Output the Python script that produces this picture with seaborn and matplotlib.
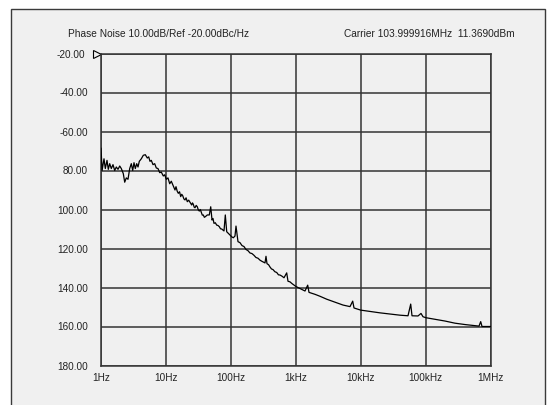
import numpy as np
import pandas as pd
import matplotlib
matplotlib.use("Agg")
import matplotlib.pyplot as plt
import seaborn as sns
from matplotlib.patches import Rectangle
from matplotlib.transforms import ScaledTranslation

# ---- data (offset frequency in Hz, phase noise magnitude in dB below carrier) ----
freq_hz = [
    1.0, 1.04, 1.112, 1.165, 1.237, 1.295, 1.361, 1.441, 1.53, 1.626, 1.72, 1.827,
    1.941, 2.054, 2.204, 2.317, 2.452, 2.604, 2.766, 2.928, 3.077, 3.222, 3.375,
    3.546, 3.713, 3.889, 4.173, 4.48, 4.81, 5.164, 5.425, 5.68, 5.95, 6.32, 6.71,
    7.10, 7.54, 8.01, 8.48, 9.10, 9.57, 10.12, 10.75, 11.42, 12.09, 12.84, 13.78,
    14.28, 14.9, 15.49, 16.2, 16.87, 17.5, 18.11, 18.9, 19.65, 20.4, 21.32, 22.4,
    23.46, 24.92, 25.6, 26.37, 27.2, 28.01, 29.2, 30.39, 31.5,
    32.62, 33.8, 35.03, 36.3, 37.6, 39.0, 40.36, 43.3, 46.5, 48.9, 51.2, 53.0, 54.9,
    57.6, 60.4, 63.3, 66.3, 69.2, 72.2, 78.3, 82.0, 86.2, 91.2, 96.9, 102.9, 108.9,
    115.6, 119.8, 128.6, 138.0, 148.2, 159.0, 170.8, 183.0, 196.8, 211.0, 226.8,
    243.0, 261.4, 281.0, 301.2, 335, 347, 359.6, 380.0, 400, 422.0, 444.8, 475.0,
    507.4, 540.0, 570, 612.0, 657, 723, 757, 812.0, 872, 1005, 1159, 1383, 1522,
    1594, 1972, 2354, 2985, 4007, 5321, 6819, 7506, 7858, 9965, 13860, 19750,
    28150, 40130, 53310, 58660, 61430, 75990, 84540, 90740, 100900, 138800,
    197900, 282000, 402100, 573300, 660500, 701600, 734700, 1000000,
]
noise_db = [
    68.5, 80.0, 74.0, 79.0, 74.8, 79.4, 76.5, 79.0, 77.0, 80.0, 78.2, 79.4,
    77.7, 79.0, 81.6, 86.0, 83.8, 84.5, 79.0, 76.5, 80.0, 76.0, 79.0,
    76.5, 78.2, 75.3, 74.0, 72.2, 71.9, 73.6, 73.0, 75.3, 74.8, 77.0, 76.5,
    78.7, 79.0, 81.1, 80.8, 82.8, 82.2, 84.5, 83.8, 86.8, 85.5, 87.6, 90.0,
    88.3, 90.6, 91.7, 90.9, 93.4, 92.2, 92.9, 94.6, 95.1, 94.0, 96.0, 95.2,
    96.3, 97.7, 96.6, 97.3, 98.8, 99.1, 97.9, 98.6, 100.2,
    100.8, 100.0, 101.4, 102.9, 102.8, 104.0, 103.7, 102.8, 102.8, 98.6, 105.4, 104.6, 107.1,
    106.8, 108.0, 108.2, 108.8, 109.9, 110.0, 111.0, 102.8, 111.4, 112.2, 113.1, 114.0, 114.5,
    113.6, 108.5, 116.5, 117.0, 118.5, 119.0, 120.5, 121.1, 122.3, 122.6, 123.5,
    124.6, 125.0, 126.0, 126.6, 127.4, 124.0, 127.8, 128.3, 129.5, 130.5, 130.8, 131.9,
    132.3, 133.5, 133.6, 134.2, 135.0, 132.5, 136.8, 137.1, 138.0, 139.5, 140.5, 141.8, 138.8,
    142.5, 143.5, 144.5, 146.0, 147.5, 149.0, 149.8, 147.0, 150.5, 151.6, 152.3, 153.0,
    153.6, 154.2, 154.5, 148.5, 154.5, 154.6, 153.3, 155.0, 155.5, 156.3,
    157.2, 158.3, 159.0, 159.6, 159.8, 157.5, 160.0, 160.0,
]
x_ticks = [1, 10, 100, 1e3, 1e4, 1e5, 1e6]
x_labels = ["1Hz", "10Hz", "100Hz", "1kHz", "10kHz", "100kHz", "1MHz"]
y_ticks = [20, 40, 60, 80, 100, 120, 140, 160, 180]
y_labels = ["-20.00", "-40.00", "-60.00", "80.00", "100.00", "120.00",
            "140.00", "160.00", "180.00"]
title_left = "Phase Noise 10.00dB/Ref -20.00dBc/Hz"
title_right = "Carrier 103.999916MHz  11.3690dBm"

sns.set_style("white")
plt.rcParams["font.family"] = ["Liberation Sans", "DejaVu Sans"]

W, H = 550, 405
fig = plt.figure(figsize=(W / 100, H / 100), dpi=100)
fig.patch.set_facecolor("white")

panel = Rectangle((10.5 / W, -0.1), (545 - 10.5) / W, 1 - 9 / H + 0.1,
                  transform=fig.transFigure, facecolor="#f0f0f0",
                  edgecolor="#3a3a3a", lw=1.0, zorder=-1)
fig.add_artist(panel)

ax = fig.add_axes([101 / W, 1 - 365.5 / H, (490.7 - 101) / W, (365.5 - 53.5) / H])
ax.set_facecolor("#f0f0f0")

df = pd.DataFrame({"freq": freq_hz, "noise": noise_db})
sns.lineplot(data=df, x="freq", y="noise", ax=ax, color="black", lw=0.9,
             estimator=None, sort=False, zorder=3)

ax.set_xscale("log")
ax.set_xlim(1, 1e6)
ax.set_ylim(180, 20)
ax.minorticks_off()
ax.set_xticks(x_ticks)
ax.set_xticklabels(x_labels)
ax.set_yticks(y_ticks)
ax.set_yticklabels(y_labels)
ax.set_xlabel("")
ax.set_ylabel("")
ax.tick_params(axis="both", which="both", length=0, labelsize=7.2, colors="#222222")
ax.tick_params(axis="y", pad=9.4)
ax.tick_params(axis="x", pad=5.5)
ax.grid(True, which="major", color="#333333", lw=1.1)
ax.set_axisbelow(True)
for sp in ax.spines.values():
    sp.set_color("#333333")
    sp.set_linewidth(1.1)
    sp.set_visible(True)

# reference marker
ax.plot([-0.0115], [1.0], transform=ax.transAxes, marker=">", ms=6,
        mfc="none", mec="black", mew=0.8, clip_on=False, ls="none")

# shift top label a bit left to make room for marker
lab = ax.get_yticklabels()[0]
lab.set_transform(lab.get_transform() + ScaledTranslation(-3 / 100, 0, fig.dpi_scale_trans))

fig.text(68 / W, 1 - 34 / H, title_left, ha="left", va="center", fontsize=7.3, color="#222222")
fig.text(515 / W, 1 - 34 / H, title_right, ha="right", va="center", fontsize=7.3, color="#222222")

fig.savefig("out.png", dpi=100)
